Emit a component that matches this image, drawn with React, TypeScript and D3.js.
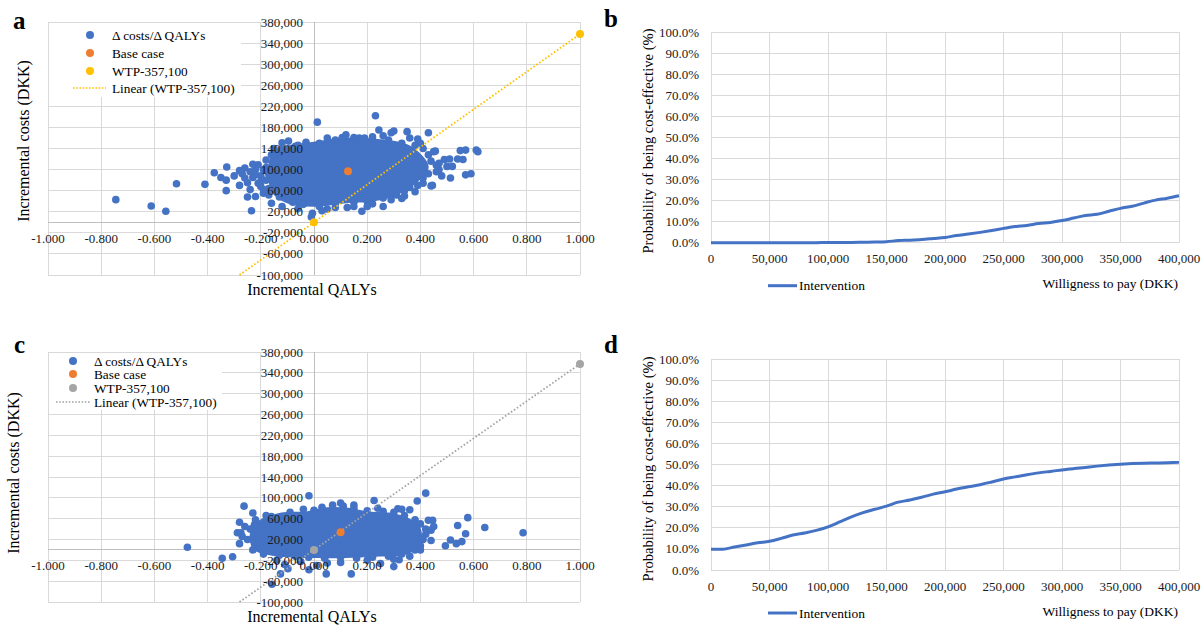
import React from 'react';
import * as d3 from 'd3';

const FONT = '"Liberation Serif", "Times New Roman", serif';
const BLUE = '#4472C4';
const ORANGE = '#ED7D31';
const YELLOW = '#FFC000';
const GREY = '#A5A5A5';
const GRID = '#D9D9D9';

// axis ticks
const qalyTicks = [-1, -0.8, -0.6, -0.4, -0.2, 0, 0.2, 0.4, 0.6, 0.8, 1];
const costTicks = [-100000, -60000, -20000, 20000, 60000, 100000, 140000, 180000, 220000, 260000, 300000, 340000, 380000];
const wtpTicks = [0, 50000, 100000, 150000, 200000, 250000, 300000, 350000, 400000];
const probTicks = [0, 10, 20, 30, 40, 50, 60, 70, 80, 90, 100];

// willingness-to-pay threshold (DKK per QALY)
const wtpThreshold = 357100;
const wtpPoints: [number, number][] = [[0, 0], [1, 357100]];

// panel a: bootstrap replicates (incremental QALYs, incremental costs)
const aCore: [number, number][] = [
  [-0.14, 132000], [-0.08, 142000], [0, 147000], [0.12, 155000], [0.25, 152000], [0.35, 142000],
  [0.4, 122000], [0.42, 104000], [0.38, 80000], [0.3, 55000], [0.22, 45000], [0.12, 42000],
  [0, 35000], [-0.1, 42000], [-0.15, 60000], [-0.16, 85000], [-0.16, 110000],
];
const aCloud: [number, number][] = [
  [-0.745, 43000], [-0.612, 31000], [-0.557, 21000], [-0.517, 73000], [-0.41, 72000],
  [-0.375, 94000], [-0.35, 85000], [-0.33, 80000], [-0.328, 105000], [-0.33, 60000],
  [-0.3, 88000], [-0.28, 70000], [-0.28, 98000], [-0.26, 103000], [-0.26, 84000],
  [-0.25, 48000], [-0.22, 49000], [-0.235, 22000], [-0.24, 96000], [-0.25, 75000],
  [-0.21, 109000], [-0.21, 74000], [-0.23, 85000], [-0.22, 100000], [-0.2, 68000],
  [-0.19, 55000], [-0.18, 80000], [-0.17, 64000], [-0.16, 36000],
  [-0.12, 151000], [-0.096, 154000], [-0.07, 144000], [0.0125, 190000], [0.231, 202000], [0.244, 175000],
  [0.106, 161000], [0.15, 161000], [0.17, 160000], [0.19, 160000], [0.3, 173000], [0.29, 170000],
  [0.35, 172000], [0.43, 170000], [0.39, 158000],
  [0.456, 135000], [0.45, 134000], [0.55, 136000], [0.57, 137000], [0.61, 137000], [0.616, 134000],
  [0.49, 119000], [0.51, 120000], [0.54, 120000], [0.56, 119000], [0.5, 106000], [0.52, 106000],
  [0.47, 112000], [0.46, 96000], [0.47, 100000], [0.57, 90000], [0.59, 92000], [0.513, 84000],
  [0.445, 70000], [0.41, 74000], [0.44, 69000], [0.36, 66000], [0.34, 50000], [0.29, 43000],
  [0.18, 21000], [0.125, 28000], [0.08, 28000], [-0.006, 17000], [-0.01, 10000],
  [-0.19, 62000], [-0.2, 88000], [-0.19, 100000], [-0.18, 118000], [-0.16, 128000], [-0.12, 140000],
  [-0.06, 146000], [0.02, 150000], [0.08, 156000], [0.18, 158000], [0.28, 156000], [0.33, 150000],
  [0.38, 146000], [0.41, 140000], [0.43, 128000], [0.44, 116000], [0.46, 108000], [0.43, 92000],
  [0.41, 84000], [0.39, 70000], [0.34, 60000], [0.31, 52000], [0.26, 46000], [0.2, 40000],
  [0.15, 38000], [0.08, 36000], [0.02, 30000], [-0.04, 34000], [-0.08, 38000], [-0.13, 48000],
  [-0.17, 52000], [-0.12, 30000], [0.05, 25000], [0.22, 35000], [0.33, 45000],
  [-0.27, 92000], [-0.24, 62000], [-0.22, 90000], [-0.2, 78000], [-0.18, 104000], [-0.23, 110000],
  [-0.17, 92000], [-0.15, 140000], [-0.03, 152000], [0.05, 160000], [0.12, 166000], [0.22, 162000],
  [0.26, 164000], [0.36, 160000], [0.4, 150000], [0.08, 50000], [0.15, 30000], [0.26, 30000],
  [0.38, 58000], [0.48, 88000], [0.03, 22000], [-0.06, 26000], [0.2, 30000],
];
const aBase: [number, number] = [0.128, 97000];

// panel c
const cCore: [number, number][] = [
  [-0.22, 5000], [-0.23, 30000], [-0.2, 52000], [-0.12, 66000], [-0.03, 68000], [0.05, 76000],
  [0.13, 75000], [0.2, 68000], [0.28, 66000], [0.35, 56000], [0.39, 40000], [0.39, 15000],
  [0.34, -4000], [0.25, -7000], [0.12, -10000], [0.02, -10000], [-0.08, -9000], [-0.17, -4000],
];
const cCloud: [number, number][] = [
  [-0.476, 5000], [-0.345, -16000], [-0.306, -13000], [-0.263, 84000], [-0.28, 53000],
  [-0.288, 33000], [-0.275, 33000], [-0.28, 12000], [-0.23, 71000], [-0.224, 48000],
  [-0.019, 104000], [-0.126, -46000], [-0.158, -66000], [-0.098, -36000], [-0.019, -38000],
  [0.046, -46000], [0.14, -46000], [0.226, 95000], [0.388, 94000], [0.42, 109000],
  [0.315, 79000], [0.36, 77000], [0.3, -32000], [0.32, -19000], [0.4, 0], [0.15, 86000],
  [0.43, 57000], [0.446, 57000], [0.44, 38000], [0.494, 8000], [0.513, 19000], [0.535, 12000],
  [0.556, 16000], [0.54, 47000], [0.57, 31000], [0.578, 62000], [0.642, 43000], [0.786, 33000],
  [-0.24, 40000], [-0.22, 58000], [-0.16, 64000], [-0.09, 72000], [-0.04, 78000], [0.03, 82000],
  [0.07, 86000], [0.11, 84000], [0.15, 80000], [0.2, 75000], [0.26, 74000], [0.3, 72000],
  [0.34, 66000], [0.38, 58000], [0.4, 50000], [0.42, 30000], [0.41, 20000], [0.4, 8000],
  [0.38, 0], [0.33, -8000], [0.28, -12000], [0.22, -14000], [0.16, -16000], [0.1, -14000],
  [0.04, -16000], [-0.02, -14000], [-0.07, -12000], [-0.13, -10000], [-0.19, -8000],
  [-0.23, 0], [-0.25, 20000], [0.05, -25000], [-0.05, -22000], [0.2, -20000], [0.3, -18000],
  [0.36, -12000], [-0.14, -20000], [0.45, 45000], [0.44, 18000],
  [-0.11, -28000], [0.01, -30000], [0.1, -24000], [0.25, -26000], [-0.18, 66000], [0.0, 76000],
  [0.1, 90000], [0.24, 80000], [0.33, 78000], [0.42, 40000], [-0.27, 26000], [-0.26, 45000],
];
const cBase: [number, number] = [0.1, 34000];

// CEAC: willingness to pay (DKK) and probability cost-effective (%)
const wtp = [
  0, 10000, 20000, 30000, 40000, 50000, 60000, 70000, 80000, 90000, 100000,
  110000, 120000, 130000, 140000, 150000, 160000, 170000, 180000, 190000, 200000,
  210000, 220000, 230000, 240000, 250000, 260000, 270000, 280000, 290000, 300000,
  310000, 320000, 330000, 340000, 350000, 360000, 370000, 380000, 390000, 400000,
];
const probB = [
  0, 0, 0, 0, 0, 0, 0, 0, 0, 0, 0.1,
  0.1, 0.1, 0.2, 0.3, 0.5, 1.0, 1.2, 1.5, 2.0, 2.5,
  3.4, 4.1, 4.9, 5.8, 6.8, 7.7, 8.2, 9.1, 9.6, 10.5,
  11.7, 12.9, 13.5, 14.9, 16.3, 17.3, 18.8, 20.2, 21.1, 22.3,
];
const probD = [
  9.8, 9.9, 10.9, 11.9, 12.9, 13.6, 15.0, 16.6, 17.6, 18.8, 20.5,
  22.8, 25.2, 27.2, 28.8, 30.3, 32.2, 33.2, 34.5, 36.0, 37.1,
  38.4, 39.5, 40.5, 41.8, 43.2, 44.2, 45.2, 46.1, 46.8, 47.5,
  48.1, 48.7, 49.3, 49.8, 50.2, 50.5, 50.7, 50.8, 50.9, 51.1,
];

const hyphen = (s: string) => s.replace(/\u2212/g, '-');
const fmtCost = (v: number) => hyphen(d3.format(',')(v));
const fmtQaly = (v: number) => hyphen(d3.format('.3f')(Math.round(v * 10) / 10));

function ScatterPanel({ top, bottom, cloud, core, base, wtpColor, legend, letter, yTitle }: any) {
  const x = d3.scaleLinear().domain([-1, 1]).range([48, 580]);
  const y = d3.scaleLinear().domain([-100000, 380000]).range([bottom, top]);
  const corePath = d3.line<[number, number]>()
    .x(d => x(d[0])).y(d => y(d[1]))
    .curve(d3.curveCatmullRomClosed)(core);
  const xMin = Math.max(-1, -100000 / wtpThreshold);
  const trend = d3.line<number>().x(v => x(v)).y(v => y(v * wtpThreshold))([xMin, 1]);
  const [x0, x1] = x.range();
  const rows = ['Δ costs/Δ QALYs', 'Base case', 'WTP-357,100', 'Linear (WTP-357,100)'];
  const rowColors = [BLUE, ORANGE, wtpColor];
  return (
    <g>
      <text x={letter.x} y={letter.y} fontSize={25} fontWeight="bold">{letter.text}</text>
      <g shapeRendering="crispEdges">
        {costTicks.map(t => <line key={t} x1={x0} x2={x1} y1={y(t)} y2={y(t)} stroke={GRID} />)}
        {qalyTicks.map(t => <line key={t} x1={x(t)} x2={x(t)} y1={top} y2={bottom} stroke={GRID} />)}
        <line x1={x0} x2={x1} y1={y(0)} y2={y(0)} stroke="#BFBFBF" />
        <line x1={x(0)} x2={x(0)} y1={top} y2={bottom} stroke="#BFBFBF" />
      </g>
      <rect x={legend.box[0]} y={legend.box[1]} width={legend.box[2]} height={legend.box[3]} fill="#fff" />
      <path d={corePath || ''} fill={BLUE} stroke={BLUE} strokeWidth={6} strokeLinejoin="round" />
      {cloud.map((d: [number, number], i: number) => (
        <circle key={i} cx={x(d[0])} cy={y(d[1])} r={3.8} fill={BLUE} />
      ))}
      <path d={trend || ''} fill="none" stroke={wtpColor} strokeWidth={1.8} strokeDasharray="1.6 2" />
      {wtpPoints.map((d, i) => <circle key={i} cx={x(d[0])} cy={y(d[1])} r={4} fill={wtpColor} />)}
      <circle cx={x(base[0])} cy={y(base[1])} r={4} fill={ORANGE} />
      <g fontSize={13} fill="#1a1a1a">
        {costTicks.map(t => (
          <text key={t} x={x(0) - 11} y={y(t)} textAnchor="end" dominantBaseline="central">{fmtCost(t)}</text>
        ))}
        {qalyTicks.map(t => (
          <text key={t} x={x(t)} y={y(0) + 16} textAnchor="middle" dominantBaseline="central">{fmtQaly(t)}</text>
        ))}
      </g>
      <text x={312} y={y(-100000) + 20} fontSize={16} textAnchor="middle">Incremental QALYs</text>
      <text transform={`translate(${yTitle.x},${yTitle.y}) rotate(-90)`} fontSize={16} textAnchor="middle"
        dominantBaseline="central">Incremental costs (DKK)</text>
      <g fontSize={13.3}>
        {rows.map((r, i) => (
          <g key={r} transform={`translate(0,${legend.rows[i]})`}>
            {i < 3
              ? <circle cx={legend.marker} cy={0} r={4} fill={rowColors[i]} />
              : <line x1={legend.line[0]} x2={legend.line[1]} y1={0} y2={0} stroke={wtpColor}
                  strokeWidth={1.6} strokeDasharray="1.6 1.6" />}
            <text x={legend.text} y={0} dominantBaseline="central">{r}</text>
          </g>
        ))}
      </g>
    </g>
  );
}

function CeacPanel({ top, bottom, values, letter, titleY }: any) {
  const x = d3.scaleLinear().domain([0, 400000]).range([711, 1179]);
  const y = d3.scaleLinear().domain([0, 100]).range([bottom, top]);
  const path = d3.line<number>().x((_, i) => x(wtp[i])).y(v => y(v)).curve(d3.curveMonotoneX)(values);
  const fmt = d3.format(',');
  return (
    <g>
      <text x={letter.x} y={letter.y} fontSize={25} fontWeight="bold">{letter.text}</text>
      <g shapeRendering="crispEdges">
        {probTicks.map(t => <line key={t} x1={711} x2={1179} y1={y(t)} y2={y(t)} stroke={GRID} />)}
        {wtpTicks.map(t => <line key={t} x1={x(t)} x2={x(t)} y1={top} y2={bottom} stroke={GRID} />)}
      </g>
      <path d={path || ''} fill="none" stroke={BLUE} strokeWidth={3} strokeLinejoin="round" />
      <g fontSize={13} fill="#1a1a1a">
        {probTicks.map(t => (
          <text key={t} x={699} y={y(t)} textAnchor="end" dominantBaseline="central">{t.toFixed(1)}%</text>
        ))}
        {wtpTicks.map(t => (
          <text key={t} x={x(t)} y={bottom + 16} textAnchor="middle" dominantBaseline="central">{fmt(t)}</text>
        ))}
      </g>
      <text transform={`translate(648,${titleY}) rotate(-90)`} fontSize={14.6} textAnchor="middle"
        dominantBaseline="central">Probability of being cost-effective (%)</text>
      <text x={1178} y={bottom + 41} fontSize={13.5} textAnchor="end" dominantBaseline="central">Willigness to pay (DKK)</text>
      <line x1={768} x2={797} y1={bottom + 43} y2={bottom + 43} stroke={BLUE} strokeWidth={3} />
      <text x={799} y={bottom + 43} fontSize={13.5} dominantBaseline="central">Intervention</text>
    </g>
  );
}

export default function App() {
  return (
    <svg width={1201} height={630} fontFamily={FONT}
      style={{ position: 'absolute', left: 0, top: 0, background: '#fff' }}>
      <ScatterPanel top={22} bottom={275} cloud={aCloud} core={aCore} base={aBase} wtpColor={YELLOW}
        letter={{ text: 'a', x: 13, y: 29 }} yTitle={{ x: 23, y: 141 }}
        legend={{ box: [49, 23, 192, 74], rows: [35, 53, 71, 88], marker: 90, text: 112, line: [73, 106] }} />
      <CeacPanel top={32} bottom={242.7} values={probB} letter={{ text: 'b', x: 604, y: 27 }} titleY={141} />
      <ScatterPanel top={352} bottom={602} cloud={cCloud} core={cCore} base={cBase} wtpColor={GREY}
        letter={{ text: 'c', x: 14, y: 353 }} yTitle={{ x: 13, y: 473 }}
        legend={{ box: [49, 353, 173, 57], rows: [361, 374, 388, 402], marker: 73, text: 94, line: [56, 90] }} />
      <CeacPanel top={359.3} bottom={570} values={probD} letter={{ text: 'd', x: 604, y: 353 }} titleY={469} />
    </svg>
  );
}
